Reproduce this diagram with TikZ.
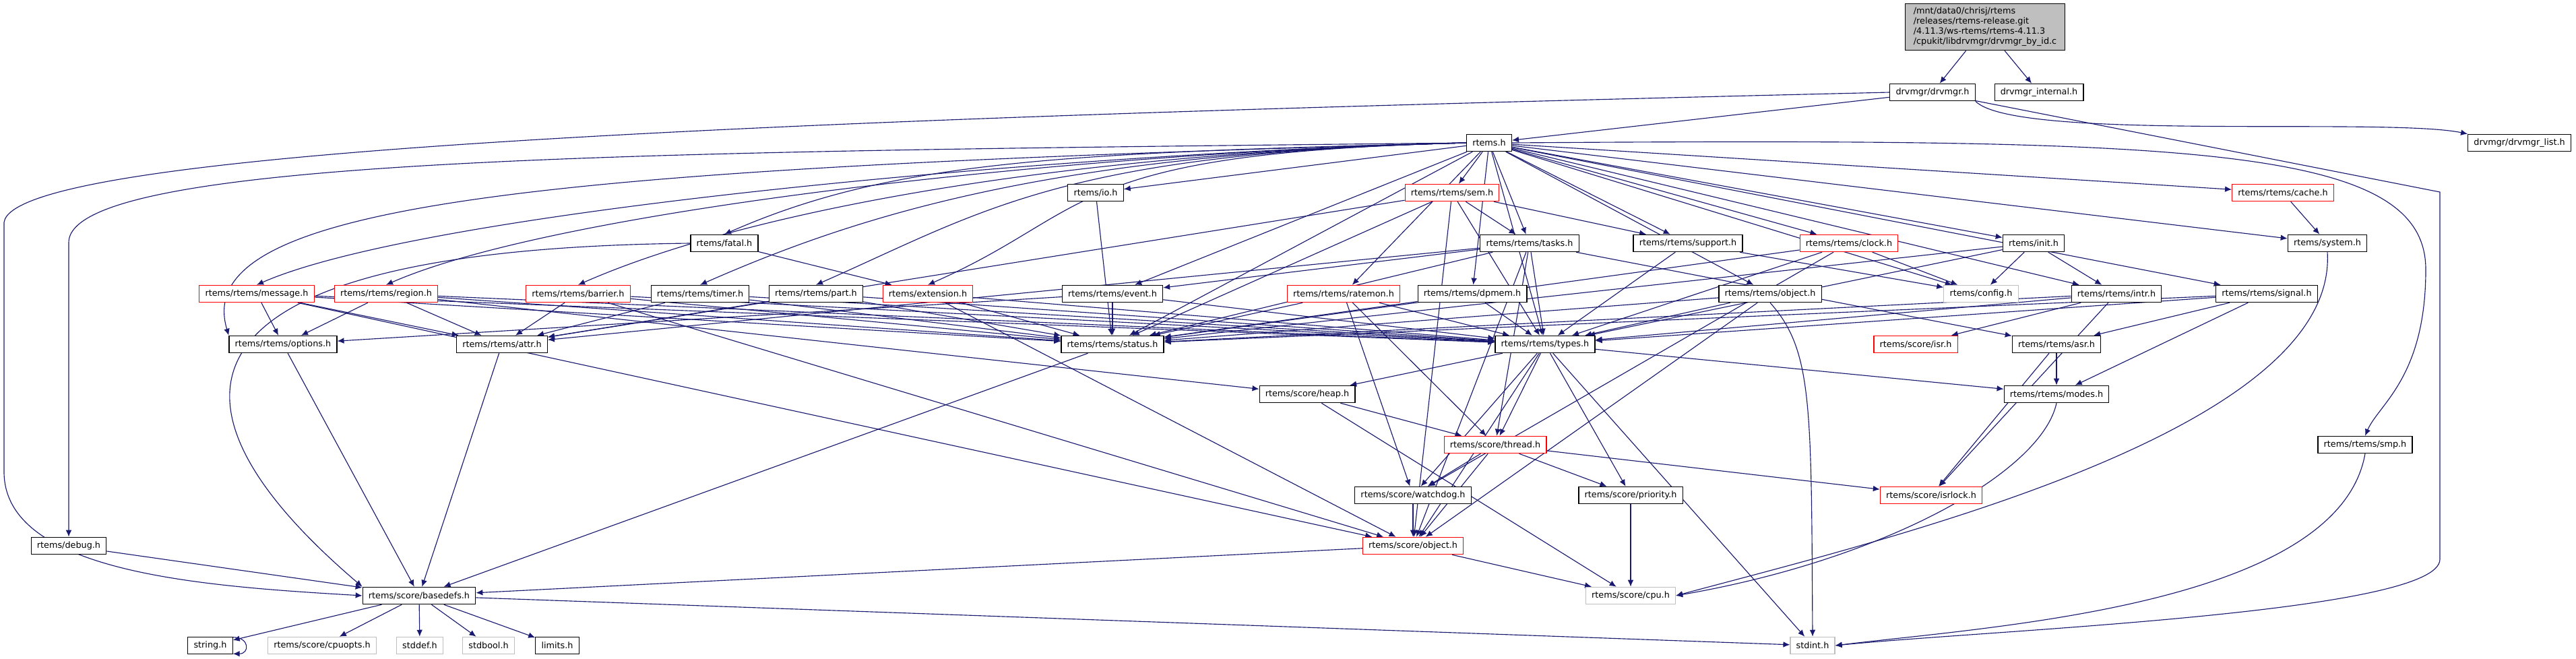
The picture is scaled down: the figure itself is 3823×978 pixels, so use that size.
\documentclass[tikz,border=0pt]{standalone}
\usepackage{fontspec}
\setmainfont{DejaVu Sans}
\usetikzlibrary{arrows.meta,backgrounds}

\definecolor{edgeblue}{HTML}{191970}
\definecolor{nodocgrey}{HTML}{BFBFBF}

\begin{document}
\begin{tikzpicture}[x=0.75pt, y=-0.75pt,
                    dep/.style={draw=edgeblue, line width=0.85pt,
                    -{Latex[length=7.5pt,width=6.5pt]}},
                    every node/.style = {shape=rectangle, align=center,
                    font=\fontsize{9.6}{11.5}\selectfont},
                    file/.style={draw=black, fill=white, line width=0.9pt,
                    minimum height=19pt, inner xsep=6.5pt},
                    trunc/.style={file, draw=red},
                    nodoc/.style={file, draw=nodocgrey}]
  \useasboundingbox (0,0) rectangle (3823,978);
  \node[file, fill=nodocgrey, align=left, minimum width=178pt, minimum height=52pt,
        font=\fontsize{9.6}{11.2}\selectfont] (byid) at (2946,40)
        {/mnt/data0/chrisj/rtems\\/releases/rtems-release.git\\/4.11.3/ws-rtems/rtems-4.11.3\\/cpukit/libdrvmgr/drvmgr\_by\_id.c};
  \node[file] (drvmgr) at (2868,137) {drvmgr/drvmgr.h};
  \node[file] (drvint) at (3026,137) {drvmgr\_internal.h};
  \node[file] (rtems) at (2210,212) {rtems.h};
  \node[file] (drvlist) at (3739,212) {drvmgr/drvmgr\_list.h};
  \node[file] (io) at (1626,286) {rtems/io.h};
  \node[trunc] (sem) at (2155,286) {rtems/rtems/sem.h};
  \node[trunc] (cache) at (3388,286) {rtems/rtems/cache.h};
  \node[file] (fatal) at (1075,361) {rtems/fatal.h};
  \node[file] (tasks) at (2270,361) {rtems/rtems/tasks.h};
  \node[file] (support) at (2505,361) {rtems/rtems/support.h};
  \node[trunc] (clock) at (2744,361) {rtems/rtems/clock.h};
  \node[file] (init) at (3018,361) {rtems/init.h};
  \node[file] (system) at (3454,361) {rtems/system.h};
  \node[trunc] (message) at (381,436) {rtems/rtems/message.h};
  \node[trunc] (region) at (573,436) {rtems/rtems/region.h};
  \node[trunc] (barrier) at (858,436) {rtems/rtems/barrier.h};
  \node[file] (timer) at (1039,436) {rtems/rtems/timer.h};
  \node[file] (part) at (1211,436) {rtems/rtems/part.h};
  \node[trunc] (extension) at (1377,436) {rtems/extension.h};
  \node[file] (event) at (1651,436) {rtems/rtems/event.h};
  \node[trunc] (ratemon) at (1994,436) {rtems/rtems/ratemon.h};
  \node[file] (dpmem) at (2185,436) {rtems/rtems/dpmem.h};
  \node[file] (robject) at (2627,436) {rtems/rtems/object.h};
  \node[nodoc] (config) at (2940,436) {rtems/config.h};
  \node[file] (intr) at (3141,436) {rtems/rtems/intr.h};
  \node[file] (signal) at (3364,436) {rtems/rtems/signal.h};
  \node[file] (options) at (420,511) {rtems/rtems/options.h};
  \node[file] (attr) at (745,511) {rtems/rtems/attr.h};
  \node[file] (status) at (1651,511) {rtems/rtems/status.h};
  \node[file] (types) at (2293,511) {rtems/rtems/types.h};
  \node[trunc] (isr) at (2843,511) {rtems/score/isr.h};
  \node[file] (asr) at (3052,511) {rtems/rtems/asr.h};
  \node[file] (heap) at (1940,585) {rtems/score/heap.h};
  \node[file] (modes) at (3052,585) {rtems/rtems/modes.h};
  \node[trunc] (thread) at (2219,660) {rtems/score/thread.h};
  \node[file] (smp) at (3510,660) {rtems/rtems/smp.h};
  \node[file] (watchdog) at (2097,735) {rtems/score/watchdog.h};
  \node[file] (priority) at (2420,735) {rtems/score/priority.h};
  \node[trunc] (isrlock) at (2866,735) {rtems/score/isrlock.h};
  \node[file] (debug) at (102,810) {rtems/debug.h};
  \node[trunc] (sobject) at (2097,810) {rtems/score/object.h};
  \node[file] (basedefs) at (622,884) {rtems/score/basedefs.h};
  \node[nodoc] (cpu) at (2420,884) {rtems/score/cpu.h};
  \node[file] (string) at (312,958) {string.h};
  \node[nodoc] (cpuopts) at (478,958) {rtems/score/cpuopts.h};
  \node[nodoc] (stddef) at (623,958) {stddef.h};
  \node[nodoc] (stdbool) at (725,958) {stdbool.h};
  \node[file] (limits) at (827,958) {limits.h};
  \node[nodoc] (stdint) at (2690,958) {stdint.h};

  \begin{pgfonlayer}{background}
    \foreach \a/\b in {byid/drvmgr, byid/drvint, drvmgr/rtems,
        rtems/io, rtems/sem, rtems/tasks, rtems/support, rtems/clock,
        rtems/init, rtems/robject, rtems/config, rtems/intr, rtems/signal,
        rtems/event, rtems/ratemon, rtems/dpmem, rtems/status, rtems/types,
        rtems/cache, rtems/system, io/status,
        sem/tasks, sem/support, sem/attr, sem/status, sem/types, sem/sobject,
        cache/system, fatal/extension,
        tasks/event, tasks/attr, tasks/status, tasks/types, tasks/asr,
        tasks/thread, tasks/sobject, support/types, support/config,
        clock/config, clock/status, clock/types, clock/watchdog,
        init/config, init/intr, init/types, init/status,
        message/options, message/attr, message/status, message/types, message/sobject,
        region/options, region/attr, region/status, region/types, region/heap,
        barrier/attr, barrier/status, barrier/types, barrier/sobject,
        timer/attr, timer/status, timer/types, part/attr, part/status, part/types,
        extension/status, extension/types, extension/sobject,
        event/options, event/status, event/types,
        ratemon/status, ratemon/types, ratemon/thread, ratemon/watchdog,
        dpmem/status, dpmem/types,
        robject/status, robject/types, robject/sobject,
        intr/status, intr/types, intr/isr, intr/isrlock,
        signal/status, signal/types, signal/asr, signal/modes,
        options/basedefs, attr/basedefs, status/basedefs,
        types/heap, types/thread, types/modes, types/watchdog, types/priority,
        types/sobject, types/stdint, heap/thread, heap/cpu,
        asr/modes, asr/isrlock,
        thread/watchdog, thread/sobject, thread/priority, thread/isrlock,
        watchdog/sobject, priority/cpu, sobject/cpu, sobject/basedefs,
        basedefs/string, basedefs/cpuopts, basedefs/stddef, basedefs/stdbool,
        basedefs/limits, basedefs/stdint, debug/basedefs}
      \draw[dep] (\a) -- (\b);
    % long ones from rtems.h to the left
    \foreach \b in {message, region, barrier, timer, part, fatal, extension}
      \draw[dep] (rtems.west) .. controls +(-600,15) and +(250,-110) .. (\b.north);
    \draw[dep] (rtems.west) .. controls (800,250) and (280,300) .. (options.north west);
    \draw[dep] (rtems.west) .. controls (1000,225) and (102,230) .. (102,360) -- (debug);
    \draw[dep] (drvmgr.west) .. controls (1200,175) and (20,220) .. (6,330)
      -- (6,700) .. controls (6,850) and (300,870) .. (basedefs.west);
    \draw[dep] (drvmgr.south east) .. controls +(60,60) and +(-120,-25) .. (drvlist.north west);
    \draw[dep] (drvmgr) -- (3621,285) -- (3621,830) .. controls (3621,910) and (2950,935) .. (stdint.east);
    \draw[dep] (fatal.west) .. controls (230,370) and (220,600) .. (basedefs.north west);
    \draw[dep] (rtems.east) .. controls (3250,205) and (3600,215) .. (3600,400)
      .. controls (3600,560) and (3530,600) .. (smp.north);
    \draw[dep] (smp.south) .. controls (3470,900) and (2950,930) .. (stdint.east);
    \draw[dep] (system.south) .. controls (3470,640) and (2800,800) .. (cpu.east);
    \draw[dep] (modes.south) .. controls (3030,700) and (2800,830) .. (cpu.east);
    \draw[dep] (robject.south) .. controls (2690,520) and (2688,600) .. (stdint.north);
    \draw[dep] (string.20) .. controls +(25,0) and +(25,0) .. (string.-20);
  \end{pgfonlayer}
\end{tikzpicture}
\end{document}
